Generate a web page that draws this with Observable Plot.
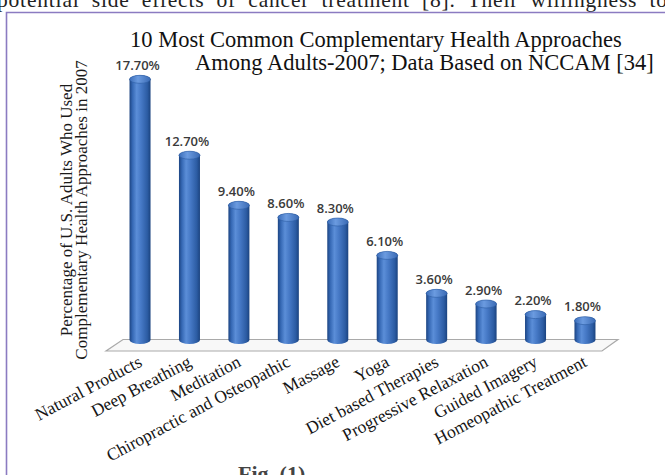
<!DOCTYPE html>
<html><head><meta charset="utf-8">
<script src="https://cdn.jsdelivr.net/npm/d3@7"></script>
<script src="https://cdn.jsdelivr.net/npm/@observablehq/plot@0.6"></script>
<style>
html,body{margin:0;padding:0;background:#fff;}
#page{position:relative;width:665px;height:475px;overflow:hidden;background:#fff;}
#page svg{display:block;}
</style>
</head><body>
<div id="page"></div>
<script>
const categories = ["Natural Products","Deep Breathing","Meditation","Chiropractic and Osteopathic","Massage","Yoga","Diet based Therapies","Progressive Relaxation","Guided Imagery","Homeopathic Treatment"];
const values = [17.7,12.7,9.4,8.6,8.3,6.1,3.6,2.9,2.2,1.8];
const valueLabels = ["17.70%","12.70%","9.40%","8.60%","8.30%","6.10%","3.60%","2.90%","2.20%","1.80%"];
const titleLines = ["10 Most Common Complementary Health Approaches","Among Adults-2007; Data Based on NCCAM [34]"];
const yTitleLines = ["Percentage of U.S. Adults Who Used","Complementary Health Approaches in 2007"];
const pageTextTop = "potential side effects of cancer treatment [8]. Their willingness to";
const pageTextBottom = "Fig. (1).";

const data = categories.map((c,i)=>({category:c, value:values[i], label:valueLabels[i]}));

const chart = Plot.plot({
  width:665, height:475,
  marginTop:40.4, marginBottom:131, marginLeft:101.1, marginRight:41.1,
  style:{background:"transparent", fontFamily:"'Liberation Serif', 'Times New Roman', serif", fontSize:"17.5px", color:"#151515", overflow:"visible"},
  x:{domain:categories, padding:0.575, round:false, label:null, tickSize:0, tickRotate:-28, tickPadding:16},
  y:{domain:[0,20], axis:null},
  marks:[
    Plot.barY(data,{x:"category", y:"value", fill:"url(#cyl)", rx:10.5, ry:4}),
    Plot.text(data,{x:"category", y:"value", text:"label", dy:-10, dx:-3, fontSize:13, fontWeight:600, fill:"#3a3a3a", fontFamily:"'Open Sans', sans-serif"})
  ]
});
document.getElementById("page").appendChild(chart);

const svg = d3.select(chart);
const defs = svg.insert("defs", ":first-child");
const g = defs.append("linearGradient").attr("id","cyl").attr("x1","0").attr("x2","1").attr("y1","0").attr("y2","0");
[[0,"#1c4482"],[0.14,"#3568b4"],[0.34,"#5b8ed8"],[0.55,"#4679c6"],[0.85,"#2c5ca3"],[1,"#1b437f"]].forEach(([o,c])=>g.append("stop").attr("offset",o).attr("stop-color",c));
const g2 = defs.append("linearGradient").attr("id","cap").attr("x1","0").attr("x2","1").attr("y1","0").attr("y2","0");
[[0,"#3b6db9"],[0.4,"#6b9be0"],[1,"#3a6ab4"]].forEach(([o,c])=>g2.append("stop").attr("offset",o).attr("stop-color",c));

const xs = chart.scale("x"), ys = chart.scale("y");
const bw = xs.bandwidth;
const c0 = xs.apply(categories[0]) + bw/2;
const cN = xs.apply(categories[categories.length-1]) + bw/2;
const y0 = ys.apply(0);
const barG = svg.select('g[aria-label="bar"]');
svg.insert("polygon", 'g[aria-label="bar"]')
  .attr("points", [[c0-17,y0-4.5],[cN+33,y0-4.5],[cN+17,y0+7],[c0-34,y0+7]].map(p=>p.join(",")).join(" "))
  .attr("fill","#f8f8f8").attr("stroke","#a9a9a9").attr("stroke-width",1.2);

barG.selectAll("rect").each(function(){
  const b = this.getBBox();
  barG.append("ellipse").attr("cx", b.x + b.width/2).attr("cy", b.y + 4).attr("rx", b.width/2).attr("ry", 4)
    .attr("fill","url(#cap)").attr("stroke","#2c5ca3").attr("stroke-width",0.6);
});

const serif = "'Liberation Serif', 'Times New Roman', serif";
const extra = svg.append("g").attr("text-anchor","start");
// page text above
extra.append("text").attr("x",-3).attr("y",7).attr("font-family",serif).attr("font-size",21.5).attr("fill","#222")
  .attr("textLength",670).attr("lengthAdjust","spacing").attr("word-spacing",6).text(pageTextTop);
extra.append("path").attr("d","M6.5,475V12.5H665").attr("fill","none").attr("stroke","#8b7bc1").attr("stroke-width",1.6);
// title
extra.append("text").attr("x",130).attr("y",47).attr("font-family",serif).attr("font-size",22.5).attr("fill","#111").text(titleLines[0]);
extra.append("text").attr("x",195).attr("y",70).attr("font-family",serif).attr("font-size",22.5).attr("fill","#111").text(titleLines[1]);
// y title
extra.append("text").attr("transform","translate(72,210) rotate(-90)").attr("text-anchor","middle").attr("font-family",serif).attr("font-size",17).attr("fill","#1a1a1a").text(yTitleLines[0]);
extra.append("text").attr("transform","translate(87,210) rotate(-90)").attr("text-anchor","middle").attr("font-family",serif).attr("font-size",17).attr("fill","#1a1a1a").text(yTitleLines[1]);
// page text below
extra.append("text").attr("x",238).attr("y",481).attr("font-family",serif).attr("font-weight","bold").attr("font-size",22).attr("fill","#444").text(pageTextBottom);
</script>
</body></html>
